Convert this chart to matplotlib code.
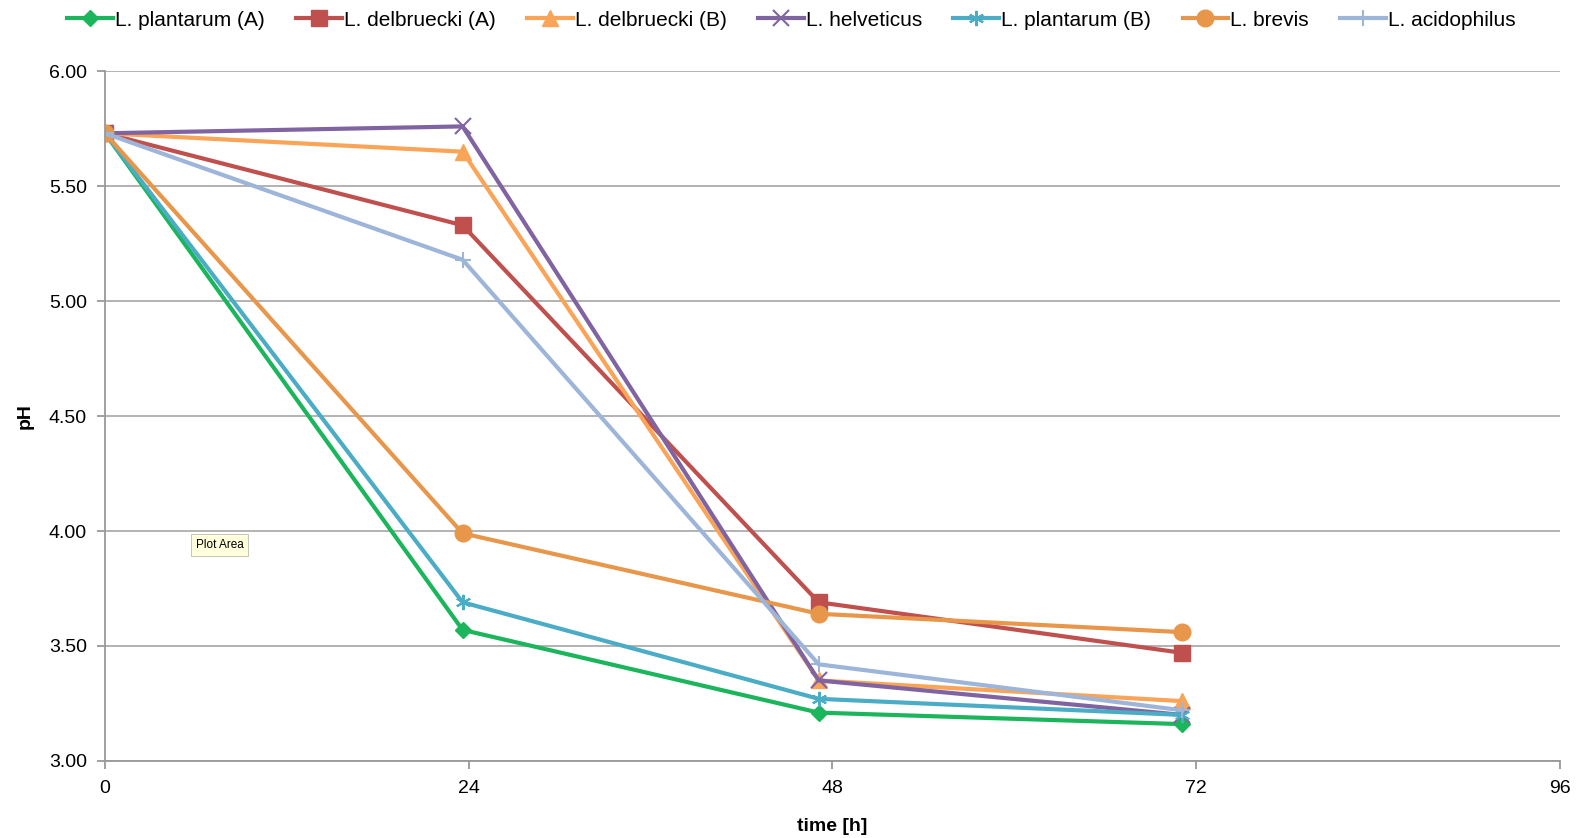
import numpy as np
import matplotlib.pyplot as plt

time_h = [0, 23.6, 47.1, 71.1]
series_names = ["L. plantarum (A)", "L. delbruecki (A)", "L. delbruecki (B)", "L. helveticus",
                "L. plantarum (B)", "L. brevis", "L. acidophilus"]
plantarum_a = [5.73, 3.57, 3.21, 3.16]
delbruecki_a = [5.73, 5.33, 3.69, 3.47]
delbruecki_b = [5.73, 5.65, 3.35, 3.26]
helveticus = [5.73, 5.76, 3.35, 3.20]
plantarum_b = [5.73, 3.69, 3.27, 3.20]
brevis = [5.73, 3.99, 3.64, 3.56]
acidophilus = [5.73, 5.18, 3.42, 3.22]
x_ticks = [0, 24, 48, 72, 96]
y_ticks = [3.0, 3.5, 4.0, 4.5, 5.0, 5.5, 6.0]

plt.rcParams['font.family'] = ['Liberation Sans', 'DejaVu Sans']

all_series = [plantarum_a, delbruecki_a, delbruecki_b, helveticus, plantarum_b, brevis, acidophilus]
colors = ["#1BB55C", "#C0504D", "#F9A456", "#8064A2", "#4BACC6", "#E8964A", "#9DB5D9"]
markers = ["D", "s", "^", "x", (6, 2, 0), "o", "+"]
msizes = [8, 11, 11, 11, 11, 12, 12]

fig = plt.figure(figsize=(15.83, 8.38), dpi=100)
ax = fig.add_axes([0.0663, 0.092, 0.919, 0.823])

for vals, name, c, m, ms in zip(all_series, series_names, colors, markers, msizes):
    if m in ("x", "+") or isinstance(m, tuple):
        ax.plot(time_h, vals, color=c, lw=3, marker=m, ms=ms, mew=1.5, label=name)
    else:
        ax.plot(time_h, vals, color=c, lw=3, marker=m, ms=ms, mec=c, label=name)

ax.set_xlim(0, 96)
ax.set_ylim(3.0, 6.0)
ax.set_xticks(x_ticks)
ax.set_yticks(y_ticks)
ax.set_yticklabels(["%.2f" % v for v in y_ticks])
ax.tick_params(labelsize=14, color="#999999", length=6, width=1.3)
ax.tick_params(axis="x", pad=8)
ax.tick_params(axis="y", pad=7)
ax.grid(axis="y", color="#ADADAD", lw=1.3)
ax.set_axisbelow(True)
for s in ["top", "right"]:
    ax.spines[s].set_visible(False)
for s in ["left", "bottom"]:
    ax.spines[s].set_color("#999999")
    ax.spines[s].set_linewidth(1.3)

ax.set_xlabel("time [h]", fontsize=14, fontweight="bold", labelpad=15)
ax.set_ylabel("pH", fontsize=14, fontweight="bold", labelpad=11)

fig.legend(*ax.get_legend_handles_labels(), loc="center", bbox_to_anchor=(0.5, 0.976), ncol=7,
           frameon=False, fontsize=15, handlelength=2.2, handletextpad=0.1, columnspacing=1.5)

ax.text(6.0, 3.94, "Plot Area", fontsize=8.5, va="center",
        bbox=dict(boxstyle="square,pad=0.4", fc="#FFFFDD", ec="#BBBBAA", lw=0.6))

fig.savefig("out.png", dpi=100)
